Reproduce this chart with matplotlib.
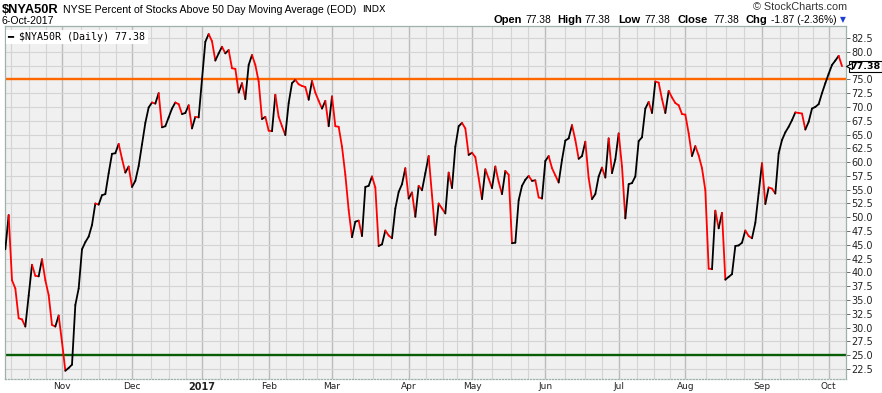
import matplotlib
matplotlib.use('Agg')
import matplotlib.pyplot as plt
import matplotlib.transforms as mtransforms
from matplotlib.collections import LineCollection
import numpy as np
import pandas as pd

# trading calendar of the chart
start_date = '2016-10-07'
end_date = '2017-10-06'
holidays = ['2016-11-24', '2016-12-26', '2017-01-02', '2017-01-16', '2017-02-20',
            '2017-04-14', '2017-05-29', '2017-07-04', '2017-09-04']

# $NYA50R daily close, one list per month
oct16 = [44.2, 50.4, 38.6, 37.1, 31.7, 31.5, 30.2, 35.8, 41.4, 39.4, 39.3, 42.4, 38.6,
         35.9, 30.5, 30.2, 32.2]
nov16 = [27.4, 22.2, 22.7, 23.3, 34.1, 37.1, 44.2, 45.5, 46.5, 48.6, 52.5, 52.3, 54.0,
         54.2, 58.0, 61.5, 61.6, 63.3, 60.6, 58.1, 59.2]
dec16 = [55.5, 56.6, 59.3, 63.2, 67.1, 69.9, 70.8, 70.6, 72.5, 66.3, 66.5, 68.1, 69.7,
         70.8, 70.5, 68.7, 68.9, 70.3, 66.1, 68.2, 68.1]
jan17 = [75.0, 81.8, 83.2, 81.9, 78.4, 79.7, 80.9, 79.7, 80.3, 77.0, 76.9, 72.6, 74.3,
         71.4, 77.6, 79.4, 77.6, 74.6, 67.8, 68.2]
feb17 = [65.7, 65.6, 72.2, 68.2, 66.5, 64.9, 70.7, 74.3, 74.9, 74.1, 73.8, 73.6, 71.3,
         74.7, 72.6, 71.1, 69.7, 71.1, 66.5]
mar17 = [71.9, 66.5, 66.4, 62.8, 57.7, 51.3, 46.4, 49.2, 49.4, 46.6, 55.5, 55.7, 57.4,
         55.4, 44.8, 45.1, 47.6, 46.7, 46.2, 51.6, 54.6, 56.0, 58.9]
apr17 = [53.4, 54.5, 50.1, 55.7, 54.9, 58.0, 61.1, 54.0, 46.8, 52.5, 51.6, 50.7, 58.1,
         55.3, 62.8, 66.5, 67.1, 66.1, 61.3]
may17 = [61.7, 60.9, 57.1, 53.3, 58.7, 57.0, 55.3, 59.2, 56.4, 54.2, 58.4, 57.7, 45.3,
         45.4, 53.1, 55.7, 56.8, 57.5, 56.6, 56.7, 53.6, 53.4]
jun17 = [60.2, 61.1, 58.9, 57.6, 56.3, 60.4, 63.9, 64.3, 66.7, 64.0, 60.6, 61.1, 63.7,
         57.1, 53.3, 54.2, 57.4, 59.0, 57.2, 64.3, 58.0, 60.5]
jul17 = [65.2, 59.2, 49.8, 56.0, 56.2, 57.4, 63.8, 64.5, 69.7, 70.9, 68.9, 74.6, 74.4,
         71.4, 68.9, 72.9, 71.7, 70.7, 70.3, 68.7]
aug17 = [68.6, 65.2, 61.1, 62.9, 61.2, 58.9, 54.9, 40.7, 40.6, 51.2, 48.0, 50.8, 38.7,
         39.2, 39.7, 44.8, 44.9, 45.4, 47.6, 46.6, 46.2, 49.0, 54.4]
sep17 = [59.8, 52.4, 55.4, 55.2, 54.3, 61.6, 64.0, 65.4, 66.4, 67.6, 69.0, 68.9, 68.8,
         65.9, 67.3, 69.7, 70.0, 70.5, 72.5, 74.3]
oct17 = [76.0, 77.6, 78.4, 79.25, 77.38]

values = oct16 + nov16 + dec16 + jan17 + feb17 + mar17 + apr17 + may17 + jun17 + jul17 + aug17 + sep17 + oct17

upper_level = 75.0
lower_level = 25.0
y_ticks = np.arange(22.5, 83, 2.5)
chg, chg_pct = -1.87, -2.36

dates = pd.bdate_range(start_date, end_date, freq='C', holidays=holidays)
x = np.arange(len(dates))
v = np.array(values)

W, H = 882, 393
fig = plt.figure(figsize=(W / 100, H / 100), dpi=100)
ax = fig.add_axes([5 / W, 1 - 379 / H, (846 - 5) / W, (379 - 26) / H])
ax.set_facecolor('#f0f0f0')

# grid: monthly darker lines, three light lines inside each month
month_idx = [i for i in range(1, len(dates)) if dates[i].month != dates[i - 1].month]
bounds = [-4] + month_idx + [month_idx[-1] + 22]
for a, b in zip(bounds[:-1], bounds[1:]):
    for f in (0.27, 0.535, 0.77):
        ax.axvline(a + f * (b - a), color='#d4d4d4', lw=0.8, zorder=0)
for i in month_idx:
    ax.axvline(i, color='#bcbcbc', lw=1.0, zorder=0)
for t in y_ticks:
    ax.axhline(t, color='#d4d4d4', lw=0.8, zorder=0)

ax.axhline(upper_level, color='#ff6600', lw=1.7, zorder=2)
ax.axhline(lower_level, color='#075e07', lw=1.7, zorder=2)

pts = np.column_stack([x, v])
segs = np.stack([pts[:-1], pts[1:]], axis=1)
cols = ['#000000' if v[i + 1] >= v[i] else '#ff0000' for i in range(len(v) - 1)]
ax.add_collection(LineCollection(segs, colors=cols, linewidths=1.3, capstyle='round', zorder=3))

ax.set_xlim(-0.1, 252.2)
ax.set_ylim(20.7, 84.66)

# the 77.5 label sits under the last-value tag, as on the original
ax.yaxis.tick_right()
ax.set_yticks(y_ticks)
ax.set_yticklabels(['' if abs(t - 77.5) < 0.01 else '%.1f' % t for t in y_ticks],
                   fontsize=7, family='DejaVu Sans', color='#222222')
ax.tick_params(axis='y', length=3, width=0.6, color='#555555', pad=1)

labels = [('2017' if dates[i].month == 1 else dates[i].strftime('%b')) for i in month_idx]
ax.set_xticks(month_idx)
ax.set_xticklabels(labels, fontsize=6.5, family='DejaVu Sans', color='#222222')
for lab in ax.get_xticklabels():
    if lab.get_text() == '2017':
        lab.set_fontweight('bold')
        lab.set_fontsize(7)
ax.tick_params(axis='x', length=0, pad=2)

for s in ax.spines.values():
    s.set_color('#9fb2a8')
    s.set_linewidth(0.9)
ax.spines['bottom'].set_linestyle((0, (1, 1.5)))

# legend box
ax.text(0.003, 0.984, '\u2501 $NYA50R (Daily) %.2f' % v[-1], transform=ax.transAxes,
        ha='left', va='top', fontsize=7.2, family='DejaVu Sans Mono', zorder=6,
        bbox=dict(boxstyle='square,pad=0.2', fc='white', ec='none'))

# last value tag
tag_tr = mtransforms.offset_copy(ax.get_yaxis_transform(), fig=fig, x=4.5, y=0, units='dots')
ax.text(1.0, v[-1], '%.2f' % v[-1], transform=tag_tr, ha='left', va='center',
        fontsize=6.8, fontweight='bold', family='DejaVu Sans', zorder=7, clip_on=False,
        bbox=dict(boxstyle='square,pad=0.12', fc='white', ec='black', lw=0.8))
tip_tr = mtransforms.offset_copy(ax.get_yaxis_transform(), fig=fig, x=2.5, y=0, units='dots')
ax.plot([1.0], [v[-1]], transform=tip_tr, marker='<', ms=4.5, mfc='white', mec='black', mew=0.8,
        clip_on=False, zorder=8)


def px(xp, yp):
    return xp / W, 1 - yp / H


fig.text(*px(2, 10), '$NYA50R', fontsize=9.3, fontweight='bold', family='Liberation Sans', va='center')
fig.text(*px(63, 10), 'NYSE Percent of Stocks Above 50 Day Moving Average (EOD)', fontsize=7.55,
         family='Liberation Sans', va='center')
fig.text(*px(362, 10), 'INDX', fontsize=6.8, family='DejaVu Sans', va='center')
fig.text(*px(2, 21), '6-Oct-2017', fontsize=7.6, family='Liberation Sans', va='center')
fig.text(*px(847, 7), '\u00a9 StockCharts.com', fontsize=7.8, family='Liberation Sans',
         va='center', ha='right', color='#333333')

header = [(493, 'Open', True), (525, '%.2f' % v[-1], False), (557, 'High', True), (584, '%.2f' % v[-1], False),
          (618, 'Low', True), (644, '%.2f' % v[-1], False), (678, 'Close', True), (713, '%.2f' % v[-1], False),
          (746, 'Chg', True), (771, '%.2f (%.2f%%)' % (chg, chg_pct), False)]
for xp, txt, bold in header:
    fig.text(*px(xp, 20), txt, fontsize=8 if bold else 7.4, fontweight='bold' if bold else 'normal',
             family='Liberation Sans', va='center')
fig.text(*px(843, 20), '\u25bc', fontsize=5.5, color='#1a3fd6', va='center', ha='center',
         family='DejaVu Sans')

fig.savefig('out.png', dpi=100)
